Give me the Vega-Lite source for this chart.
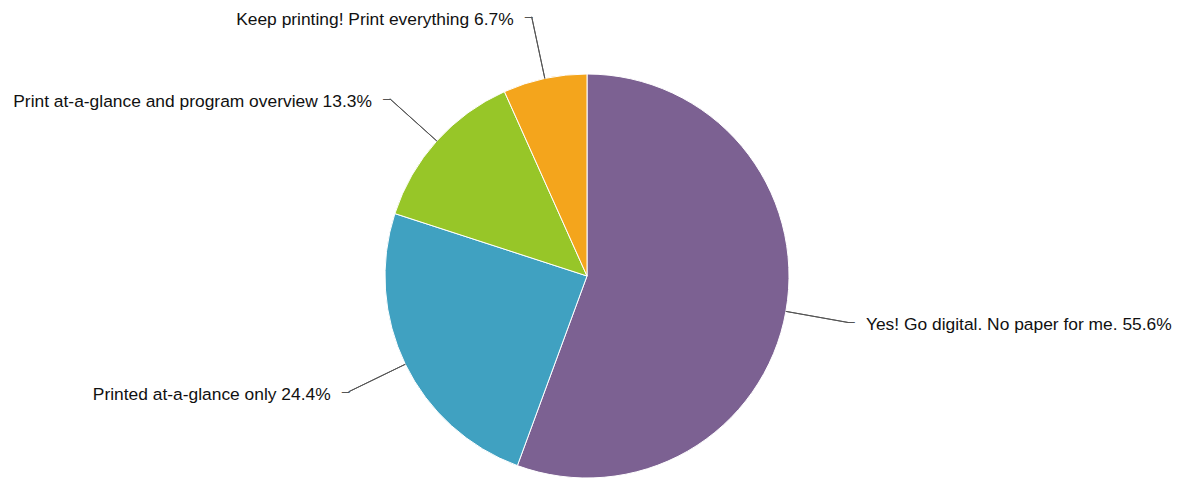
{
  "$schema": "https://vega.github.io/schema/vega-lite/v6.json",
  "width": 1174,
  "height": 422,
  "autosize": "none",
  "padding": {"left": 0, "top": 65, "right": 11, "bottom": 0},
  "background": "white",
  "config": {"view": {"stroke": null}, "text": {"font": "Liberation Sans", "fontSize": 17.4, "fill": "#111"}},
  "data": {
    "values": [
      {"label": "Yes! Go digital. No paper for me. 55.6%", "category": "Yes! Go digital. No paper for me.", "value": 55.6, "order": 1},
      {"label": "Printed at-a-glance only 24.4%", "category": "Printed at-a-glance only", "value": 24.4, "order": 2},
      {"label": "Print at-a-glance and program overview 13.3%", "category": "Print at-a-glance and program overview", "value": 13.3, "order": 3},
      {"label": "Keep printing! Print everything 6.7%", "category": "Keep printing! Print everything", "value": 6.7, "order": 4}
    ]
  },
  "transform": [
    {"window": [{"op": "sum", "field": "value", "as": "cum"}], "sort": [{"field": "order"}], "frame": [null, 0]},
    {"joinaggregate": [{"op": "sum", "field": "value", "as": "total"}]},
    {"calculate": "2 * PI * (datum.cum - datum.value / 2) / datum.total", "as": "mid"},
    {"calculate": "datum.mid + 0.0004", "as": "mid2"},
    {"calculate": "datum.mid < PI ? 'right' : 'left'", "as": "side"}
  ],
  "layer": [
    {
      "mark": {"type": "arc", "outerRadius": 202, "stroke": "white", "strokeWidth": 1},
      "encoding": {
        "theta": {"field": "value", "type": "quantitative", "stack": true},
        "order": {"field": "order", "type": "quantitative"},
        "color": {
          "field": "category",
          "type": "nominal",
          "legend": null,
          "scale": {
            "domain": ["Yes! Go digital. No paper for me.", "Printed at-a-glance only", "Print at-a-glance and program overview", "Keep printing! Print everything"],
            "range": ["#7c6192", "#40a1c1", "#97c628", "#f4a51c"]
          }
        }
      }
    },
    {
      "mark": {"type": "arc", "radius": 265, "radius2": 202, "fill": "transparent", "stroke": "#555555", "strokeWidth": 1},
      "encoding": {
        "theta": {"field": "mid", "type": "quantitative", "scale": null, "stack": null},
        "theta2": {"field": "mid2"}
      }
    },
    {
      "transform": [{"filter": "datum.side == 'right'"}],
      "mark": {"type": "text", "radius": 265, "align": "left", "baseline": "alphabetic", "dy": 4, "dx": -1, "fontSize": 14, "fill": "#555555"},
      "encoding": {
        "theta": {"field": "mid", "type": "quantitative", "scale": null, "stack": null},
        "text": {"value": "–"}
      }
    },
    {
      "transform": [{"filter": "datum.side == 'left'"}],
      "mark": {"type": "text", "radius": 265, "align": "right", "baseline": "alphabetic", "dy": 4, "dx": 1, "fontSize": 14, "fill": "#555555"},
      "encoding": {
        "theta": {"field": "mid", "type": "quantitative", "scale": null, "stack": null},
        "text": {"value": "–"}
      }
    },
    {
      "transform": [{"filter": "datum.side == 'right'"}],
      "mark": {"type": "text", "radius": 265, "align": "left", "baseline": "middle", "dx": 18, "dy": 3},
      "encoding": {
        "theta": {"field": "mid", "type": "quantitative", "scale": null, "stack": null},
        "text": {"field": "label"}
      }
    },
    {
      "transform": [{"filter": "datum.side == 'left'"}],
      "mark": {"type": "text", "radius": 265, "align": "right", "baseline": "middle", "dx": -18, "dy": 3},
      "encoding": {
        "theta": {"field": "mid", "type": "quantitative", "scale": null, "stack": null},
        "text": {"field": "label"}
      }
    }
  ]
}
